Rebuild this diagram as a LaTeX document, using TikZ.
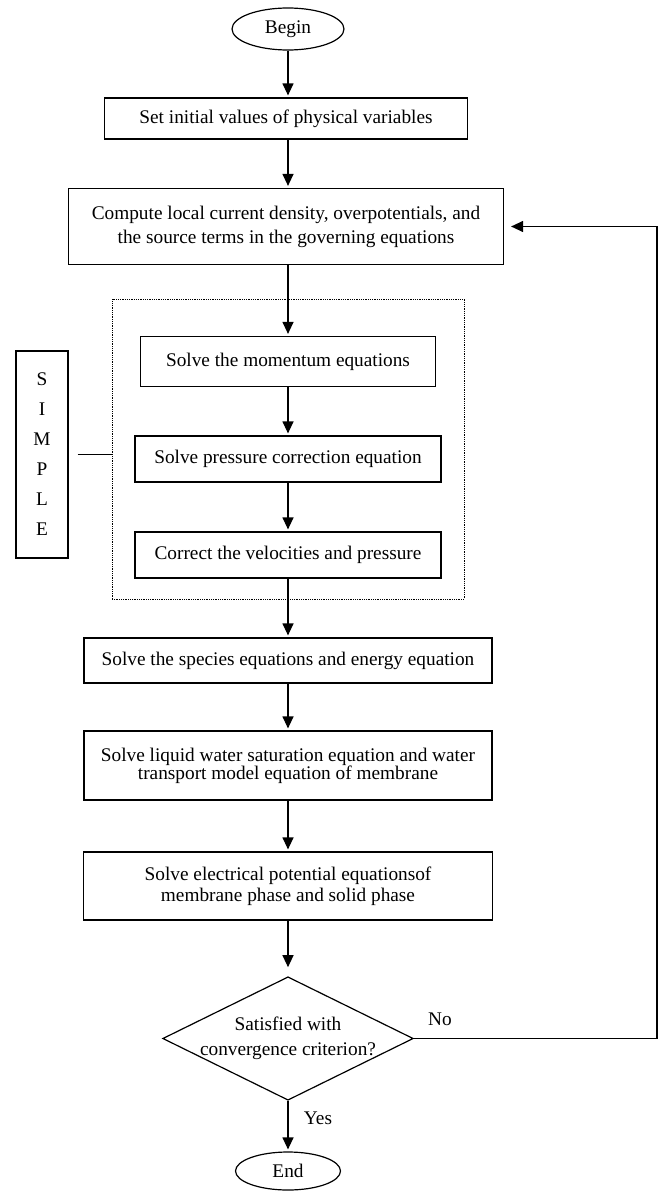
\documentclass[tikz,border=0pt]{standalone}
\usepackage{fontspec}
\setmainfont{Liberation Serif}
\usetikzlibrary{shapes.geometric,arrows.meta}

\begin{document}
\begin{tikzpicture}
	[x=1pt,y=-1pt,
	 every node/.style={black,inner sep=0pt,font=\fontsize{19.3}{24}\selectfont},
	 every path/.style={black,line width=1.2pt},
	 term/.style={draw,ellipse},
	 stepbox/.style={draw,rectangle,align=center},
	 decision/.style={draw,diamond,aspect=2.03,inner sep=-2pt,align=center},
	 simpleframe/.style={draw,densely dotted,line width=0.8pt},
	 arr/.style={-{Triangle[length=12pt,width=11pt]},shorten >=2pt}]

\useasboundingbox (0,0) rectangle (661,1191);

\node [term, minimum width=112, minimum height=42] (begin) at (288,29) {Begin};
\node [stepbox, minimum width=363, minimum height=41] (init) at (286,118.5) {Set initial values of physical variables};
\node [stepbox, minimum width=435, minimum height=76] (compute) at (286,226.5)
  {Compute local current density, overpotentials, and\\the source terms in the governing equations};

\node [simpleframe, minimum width=352, minimum height=300] (loop) at (288,449) {};
\node [stepbox, minimum width=295, minimum height=50] (momentum) at (288,361.5) {Solve the momentum equations};
\node [stepbox, minimum width=306, minimum height=46] (pressure) at (288,459) {Solve pressure correction equation};
\node [stepbox, minimum width=306, minimum height=46] (correct) at (288,555) {Correct the velocities and pressure};
\node [stepbox, minimum width=52, minimum height=207, font=\fontsize{19.3}{30}\selectfont] (simple) at (42,454.5) {S\\I\\M\\P\\L\\E};

\node [stepbox, minimum width=408, minimum height=45] (species) at (288,660.5) {Solve the species equations and energy equation};
\node [stepbox, minimum width=408, minimum height=69, font=\fontsize{19.3}{18}\selectfont] (liquid) at (288,765.5)
  {Solve liquid water saturation equation and water\\transport model equation of membrane};
\node [stepbox, minimum width=409, minimum height=68, font=\fontsize{19.3}{21}\selectfont] (potential) at (288,886)
  {Solve electrical potential equationsof\\membrane phase and solid phase};
\node [decision, minimum width=250, minimum height=123, font=\fontsize{19.3}{25}\selectfont] (conv) at (288,1038.5)
  {Satisfied with\\convergence criterion?};
\node [term, minimum width=105, minimum height=38] (end) at (288,1171) {End};

\node (no) at (440,1019) {No};
\node (yes) at (318,1118) {Yes};
\coordinate (back) at (657,0);

\draw[arr] (begin) -- (begin |- init.north);
\draw[arr] (init.south -| begin) -- (begin |- compute.north);
\draw[arr] (compute.south -| begin) -- (momentum);
\draw[arr] (momentum) -- (pressure);
\draw[arr] (pressure) -- (correct);
\draw[arr] (correct) -- (species);
\draw[arr] (species) -- (liquid);
\draw[arr] (liquid) -- (potential);
\draw[arr,shorten >=9pt] (potential) -- (conv);
\draw[arr] (conv) -- (end);

\draw[shorten <=9pt] (simple.east) -- (simple.east -| loop.west);
\draw[arr,shorten >=7pt] (conv.east) -- (conv.east -| back) -- (compute.east -| back) -- (compute.east);

\end{tikzpicture}
\end{document}
